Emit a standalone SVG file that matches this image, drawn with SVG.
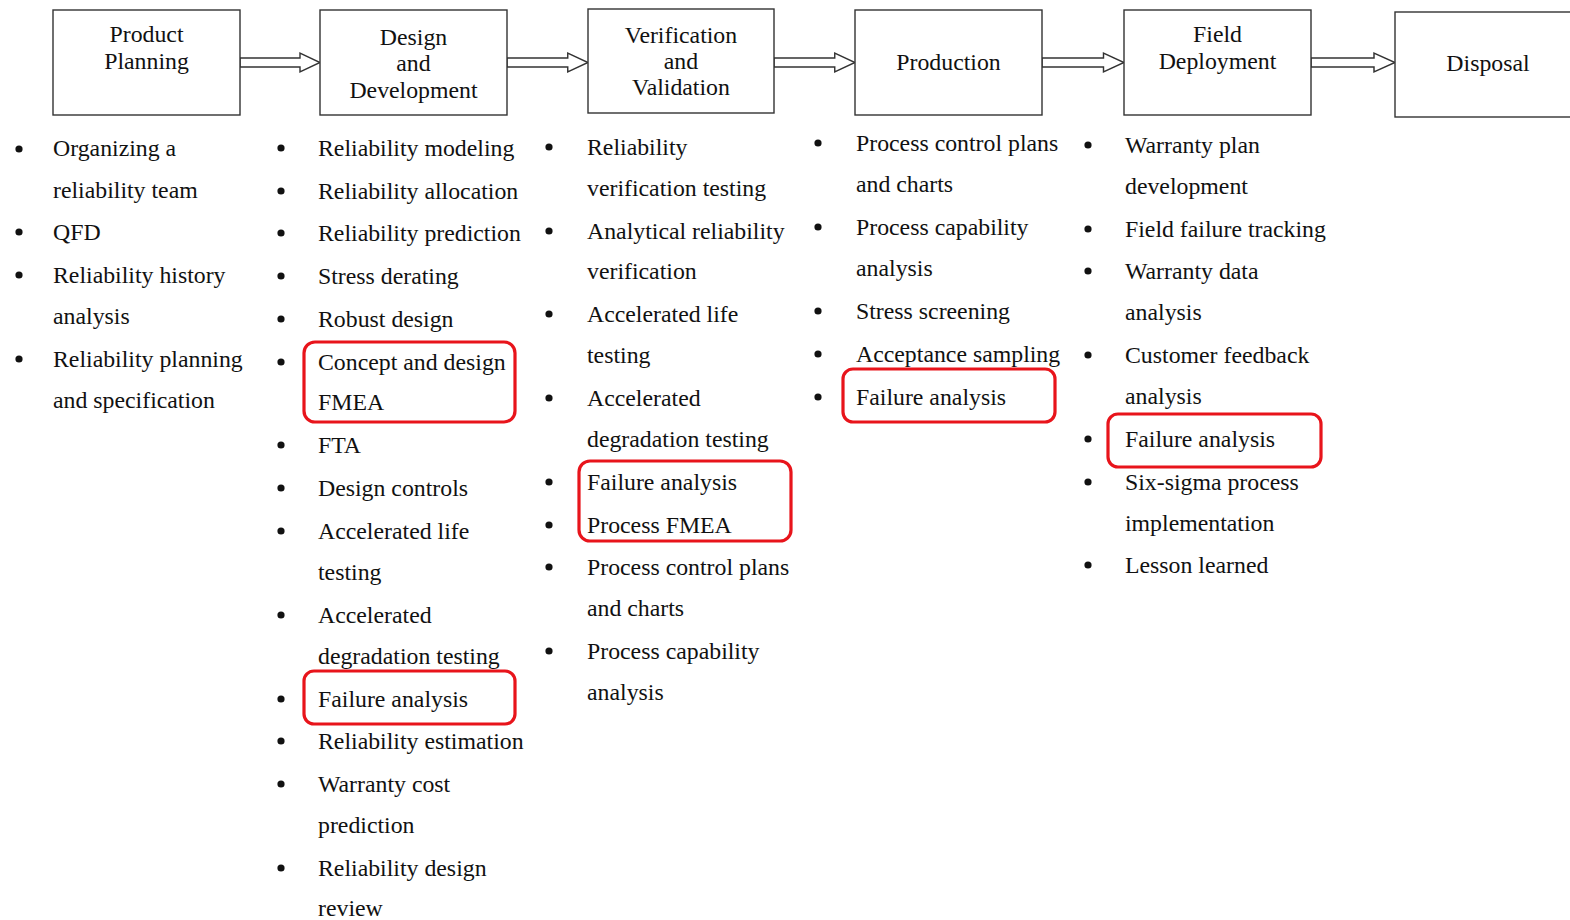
<svg xmlns="http://www.w3.org/2000/svg" width="1570" height="920" viewBox="0 0 1570 920">
<style>
.box{fill:#fff;stroke:#333;stroke-width:1.4}
.bt{font-family:"Liberation Serif","Times New Roman",serif;font-size:23.8px;fill:#111;text-anchor:middle}
.t{font-family:"Liberation Serif","Times New Roman",serif;font-size:23.8px;fill:#111}
.arr{fill:#fff;stroke:#333;stroke-width:1.4;stroke-linejoin:miter}
.hl{fill:none;stroke:#e8141b;stroke-width:3.2}
.b{fill:#111}
</style>
<defs>
<path id="arrowShape" d="M0,58 L60,58 L60,53 L80,62.5 L60,72 L60,67 L0,67 Z"/>
</defs>
<rect width="1570" height="920" fill="#fff"/>

<g id="connectors">
<use href="#arrowShape" class="arr" transform="translate(240,0)"/>
<use href="#arrowShape" class="arr" transform="translate(507,0) scale(1.0125,1)"/>
<use href="#arrowShape" class="arr" transform="translate(774,0) scale(1.0125,1)"/>
<use href="#arrowShape" class="arr" transform="translate(1042,0) scale(1.025,1)"/>
<use href="#arrowShape" class="arr" transform="translate(1311,0) scale(1.05,1)"/>
</g>

<g id="node-product-planning">
<rect class="box" x="53" y="10" width="187" height="105"/>
<text class="bt" x="146.5" y="41.5">Product</text>
<text class="bt" x="146.5" y="68.5">Planning</text>
</g>
<g id="node-design-development">
<rect class="box" x="320" y="10" width="187" height="105"/>
<text class="bt" x="413.5" y="45">Design</text>
<text class="bt" x="413.5" y="71">and</text>
<text class="bt" x="413.5" y="97.5">Development</text>
</g>
<g id="node-verification-validation">
<rect class="box" x="588" y="9" width="186" height="104"/>
<text class="bt" x="681" y="42.5">Verification</text>
<text class="bt" x="681" y="68.5">and</text>
<text class="bt" x="681" y="95">Validation</text>
</g>
<g id="node-production">
<rect class="box" x="855" y="10" width="187" height="105"/>
<text class="bt" x="948.5" y="69.5">Production</text>
</g>
<g id="node-field-deployment">
<rect class="box" x="1124" y="10" width="187" height="105"/>
<text class="bt" x="1217.5" y="41.5">Field</text>
<text class="bt" x="1217.5" y="68.5">Deployment</text>
</g>
<g id="node-disposal">
<rect class="box" x="1395" y="12" width="180" height="105"/>
<text class="bt" x="1488" y="71">Disposal</text>
</g>

<g id="list-product-planning">
<circle class="b" cx="19" cy="149" r="3.6"/>
<circle class="b" cx="19" cy="232" r="3.6"/>
<circle class="b" cx="19" cy="275" r="3.6"/>
<circle class="b" cx="19" cy="359" r="3.6"/>
<text class="t" x="53" y="156">Organizing a</text>
<text class="t" x="53" y="197.5">reliability team</text>
<text class="t" x="53" y="240">QFD</text>
<text class="t" x="53" y="283">Reliability history</text>
<text class="t" x="53" y="324">analysis</text>
<text class="t" x="53" y="367">Reliability planning</text>
<text class="t" x="53" y="408">and specification</text>
</g>

<g id="list-design-development">
<circle class="b" cx="281" cy="148" r="3.6"/>
<circle class="b" cx="281" cy="191" r="3.6"/>
<circle class="b" cx="281" cy="233" r="3.6"/>
<circle class="b" cx="281" cy="276" r="3.6"/>
<circle class="b" cx="281" cy="319" r="3.6"/>
<circle class="b" cx="281" cy="362" r="3.6"/>
<circle class="b" cx="281" cy="445" r="3.6"/>
<circle class="b" cx="281" cy="488" r="3.6"/>
<circle class="b" cx="281" cy="531" r="3.6"/>
<circle class="b" cx="281" cy="615" r="3.6"/>
<circle class="b" cx="281" cy="699" r="3.6"/>
<circle class="b" cx="281" cy="741" r="3.6"/>
<circle class="b" cx="281" cy="784" r="3.6"/>
<circle class="b" cx="281" cy="868" r="3.6"/>
<text class="t" x="318" y="156">Reliability modeling</text>
<text class="t" x="318" y="199">Reliability allocation</text>
<text class="t" x="318" y="241">Reliability prediction</text>
<text class="t" x="318" y="284">Stress derating</text>
<text class="t" x="318" y="327">Robust design</text>
<text class="t" x="318" y="370">Concept and design</text>
<text class="t" x="318" y="410">FMEA</text>
<text class="t" x="318" y="453">FTA</text>
<text class="t" x="318" y="496">Design controls</text>
<text class="t" x="318" y="539">Accelerated life</text>
<text class="t" x="318" y="580">testing</text>
<text class="t" x="318" y="623">Accelerated</text>
<text class="t" x="318" y="664">degradation testing</text>
<text class="t" x="318" y="707">Failure analysis</text>
<text class="t" x="318" y="749">Reliability estimation</text>
<text class="t" x="318" y="792">Warranty cost</text>
<text class="t" x="318" y="833">prediction</text>
<text class="t" x="318" y="876">Reliability design</text>
<text class="t" x="318" y="916">review</text>
</g>

<g id="list-verification-validation">
<circle class="b" cx="549" cy="147" r="3.6"/>
<circle class="b" cx="549" cy="231" r="3.6"/>
<circle class="b" cx="549" cy="314" r="3.6"/>
<circle class="b" cx="549" cy="398" r="3.6"/>
<circle class="b" cx="549" cy="482" r="3.6"/>
<circle class="b" cx="549" cy="525" r="3.6"/>
<circle class="b" cx="549" cy="567" r="3.6"/>
<circle class="b" cx="549" cy="651" r="3.6"/>
<text class="t" x="587" y="155">Reliability</text>
<text class="t" x="587" y="196">verification testing</text>
<text class="t" x="587" y="239">Analytical reliability</text>
<text class="t" x="587" y="279">verification</text>
<text class="t" x="587" y="322">Accelerated life</text>
<text class="t" x="587" y="363">testing</text>
<text class="t" x="587" y="406">Accelerated</text>
<text class="t" x="587" y="447">degradation testing</text>
<text class="t" x="587" y="490">Failure analysis</text>
<text class="t" x="587" y="533">Process FMEA</text>
<text class="t" x="587" y="575">Process control plans</text>
<text class="t" x="587" y="616">and charts</text>
<text class="t" x="587" y="659">Process capability</text>
<text class="t" x="587" y="700">analysis</text>
</g>

<g id="list-production">
<circle class="b" cx="818" cy="143" r="3.6"/>
<circle class="b" cx="818" cy="227" r="3.6"/>
<circle class="b" cx="818" cy="311" r="3.6"/>
<circle class="b" cx="818" cy="354" r="3.6"/>
<circle class="b" cx="818" cy="397" r="3.6"/>
<text class="t" x="856" y="151">Process control plans</text>
<text class="t" x="856" y="192">and charts</text>
<text class="t" x="856" y="235">Process capability</text>
<text class="t" x="856" y="276">analysis</text>
<text class="t" x="856" y="319">Stress screening</text>
<text class="t" x="856" y="362">Acceptance sampling</text>
<text class="t" x="856" y="405">Failure analysis</text>
</g>

<g id="list-field-deployment">
<circle class="b" cx="1088" cy="145" r="3.6"/>
<circle class="b" cx="1088" cy="229" r="3.6"/>
<circle class="b" cx="1088" cy="271" r="3.6"/>
<circle class="b" cx="1088" cy="355" r="3.6"/>
<circle class="b" cx="1088" cy="439" r="3.6"/>
<circle class="b" cx="1088" cy="482" r="3.6"/>
<circle class="b" cx="1088" cy="565" r="3.6"/>
<text class="t" x="1125" y="153">Warranty plan</text>
<text class="t" x="1125" y="194">development</text>
<text class="t" x="1125" y="237">Field failure tracking</text>
<text class="t" x="1125" y="279">Warranty data</text>
<text class="t" x="1125" y="320">analysis</text>
<text class="t" x="1125" y="363">Customer feedback</text>
<text class="t" x="1125" y="404">analysis</text>
<text class="t" x="1125" y="447">Failure analysis</text>
<text class="t" x="1125" y="490">Six-sigma process</text>
<text class="t" x="1125" y="531">implementation</text>
<text class="t" x="1125" y="573">Lesson learned</text>
</g>

<g id="highlights">
<rect class="hl" x="304" y="342" width="211" height="80" rx="11"/>
<rect class="hl" x="304" y="671" width="211" height="53" rx="10"/>
<rect class="hl" x="579" y="461" width="212" height="80" rx="11"/>
<rect class="hl" x="843" y="369" width="212" height="53" rx="10"/>
<rect class="hl" x="1108" y="414" width="213" height="53" rx="10"/>
</g>
</svg>
